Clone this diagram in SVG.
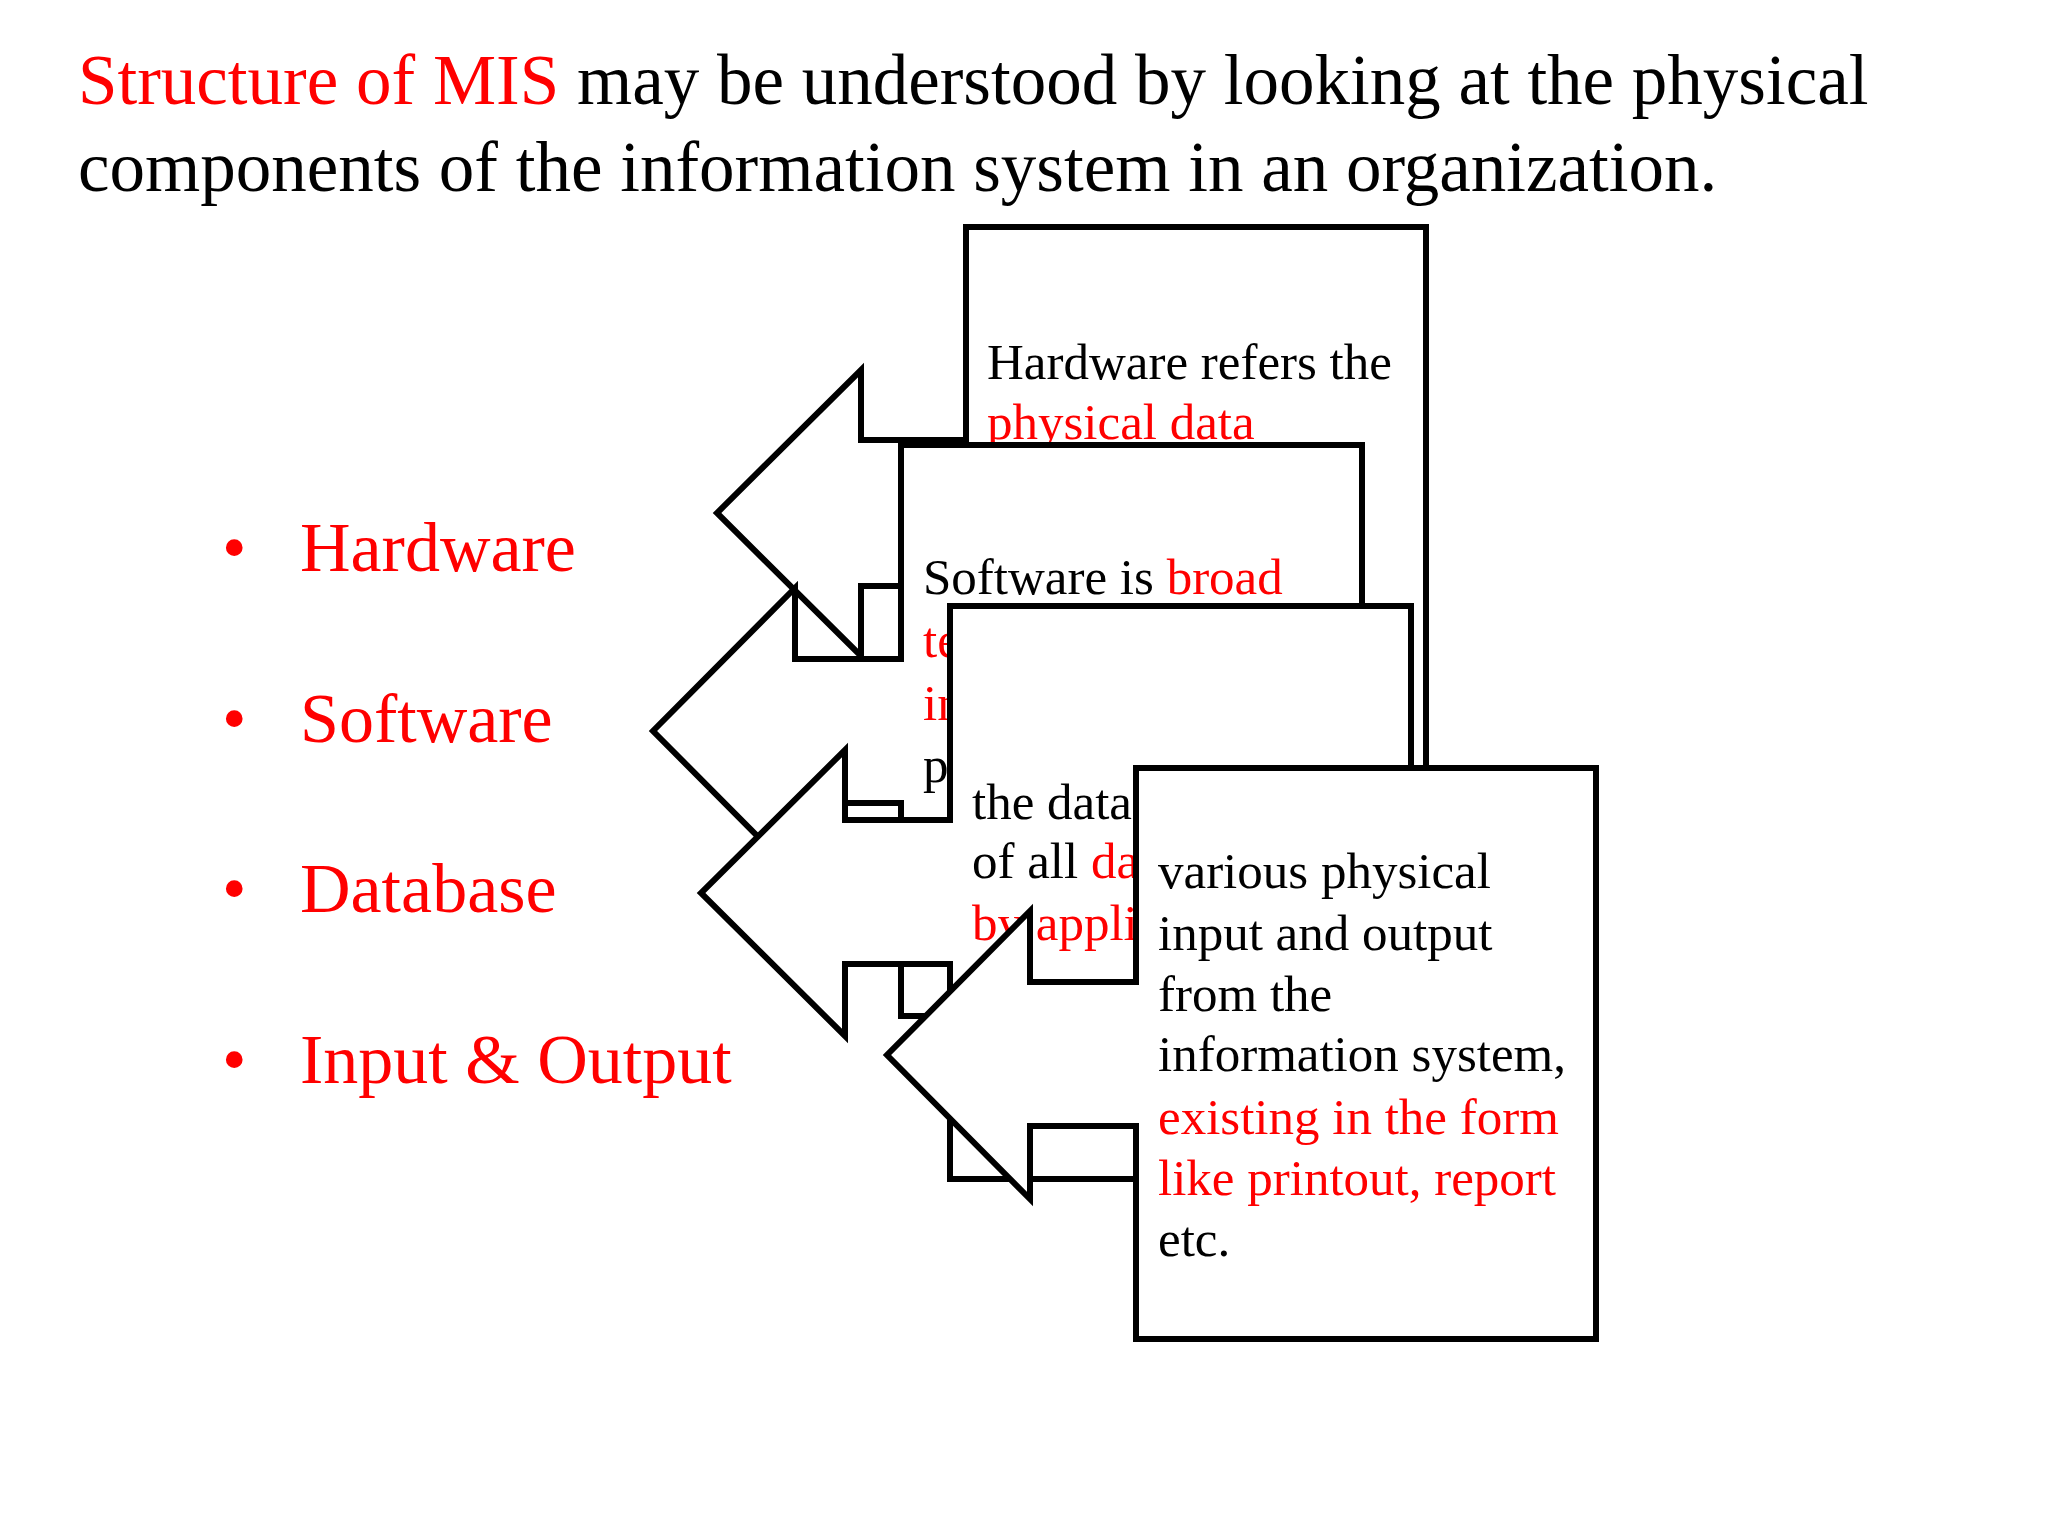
<svg xmlns="http://www.w3.org/2000/svg" width="2048" height="1536" viewBox="0 0 2048 1536">
<style>
text{font-family:"Liberation Serif","Times New Roman",serif;fill:#000}
.r{fill:#ff0000}
.title{font-size:71px}
.bul{font-size:70px;fill:#ff0000}
.t{font-size:51px}
.c{fill:#fff;stroke:#000;stroke-width:6;stroke-linejoin:miter}
</style>
<rect width="2048" height="1536" fill="#fff"/>
<g id="title">
<text class="title" x="78" y="104"><tspan class="r">Structure of MIS</tspan> may be understood by looking at the physical</text>
<text class="title" x="78" y="191">components of the information system in an organization.</text>
</g>
<g id="bullets">
<text class="bul" x="222" y="571">•</text><text class="bul" x="300" y="571">Hardware</text>
<text class="bul" x="222" y="742">•</text><text class="bul" x="300" y="742">Software</text>
<text class="bul" x="222" y="912">•</text><text class="bul" x="300" y="912">Database</text>
<text class="bul" x="222" y="1083">•</text><text class="bul" x="300" y="1083">Input &amp; Output</text>
</g>
<g id="connectors"></g>
<g id="callout-hardware">
<polygon class="c" points="966,227 1426,227 1426,1045 966,1045 966,586 861,586 861,656 717,513 861,370 861,440 966,440"/>
<text class="t" x="987" y="379">Hardware refers the</text>
<text class="t r" x="987" y="439">physical data</text>
</g>
<g id="callout-software">
<polygon class="c" points="901,445 1362,445 1362,1016 901,1016 901,803 795,803 795,874 653,731 795,588 795,659 901,659"/>
<text class="t" x="923" y="594">Software is <tspan class="r">broad</tspan></text>
<text class="t r" x="923" y="657">te</text>
<text class="t r" x="923" y="720">in</text>
<text class="t" x="923" y="782">p</text>
</g>
<g id="callout-database">
<polygon class="c" points="950,606 1411,606 1411,1179 950,1179 950,964 845,964 845,1036 701,893 845,750 845,820 950,820"/>
<text class="t" x="972" y="819">the data</text>
<text class="t" x="972" y="878">of all <tspan class="r">da</tspan></text>
<text class="t r" x="972" y="940">by appli</text>
</g>
<g id="callout-io">
<polygon class="c" points="1136,768 1596,768 1596,1339 1136,1339 1136,1126 1030,1126 1030,1199 887,1055 1030,911 1030,982 1136,982"/>
<text class="t" x="1158" y="888">various physical</text>
<text class="t" x="1158" y="950">input and output</text>
<text class="t" x="1158" y="1011">from the</text>
<text class="t" x="1158" y="1071">information system,</text>
<text class="t r" x="1158" y="1134">existing in the form</text>
<text class="t r" x="1158" y="1195">like printout, report</text>
<text class="t" x="1158" y="1256">etc.</text>
</g>
</svg>
